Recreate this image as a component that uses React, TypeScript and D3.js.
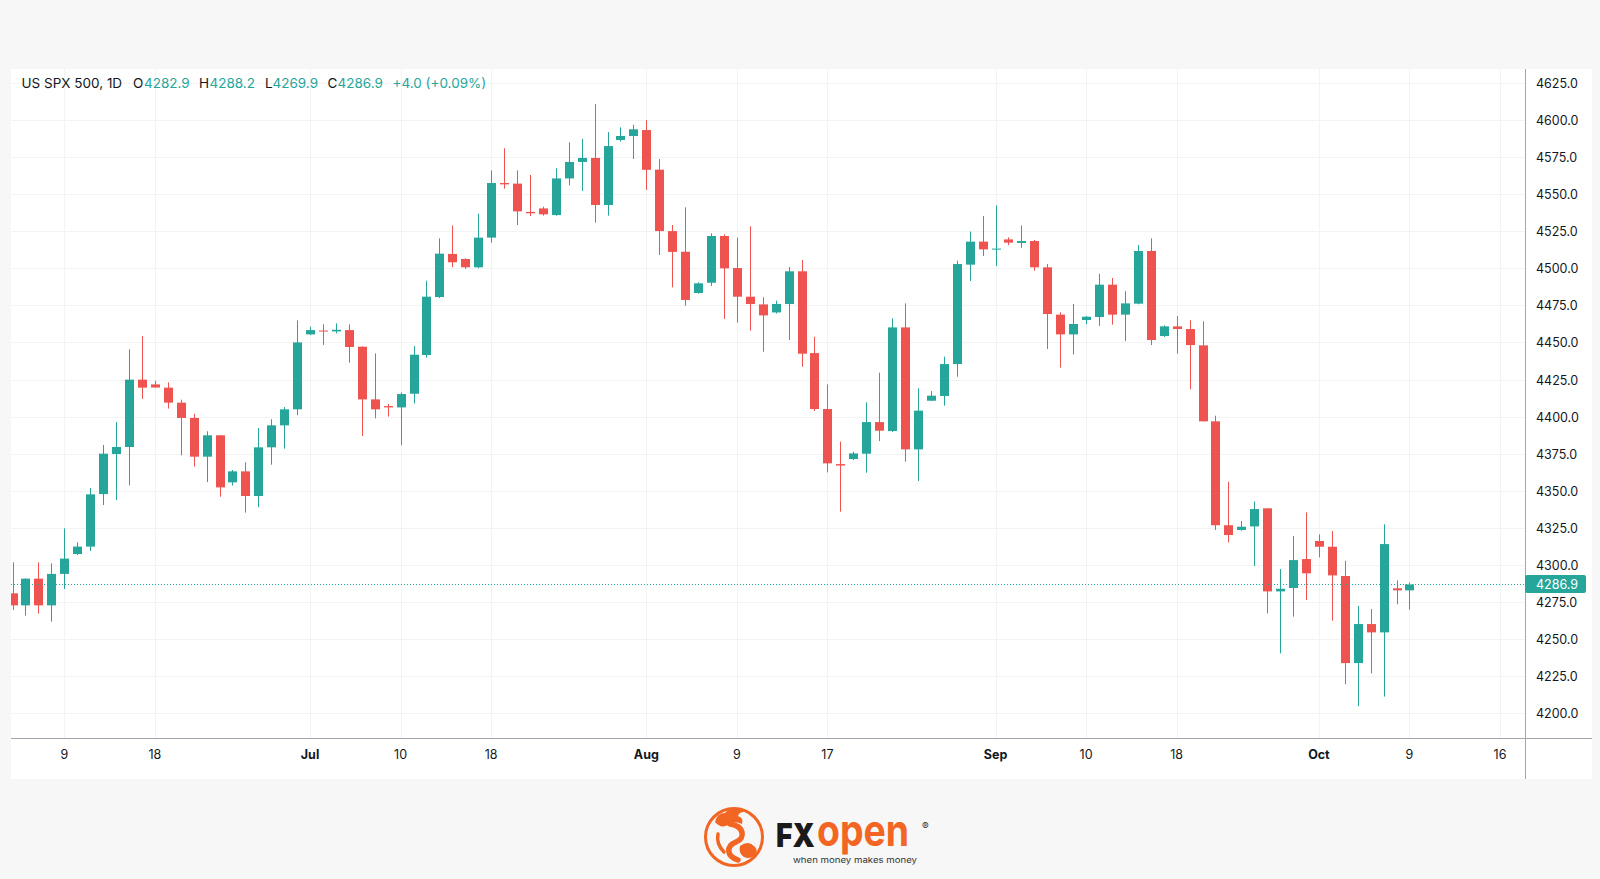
import React from 'react';
import * as d3 from 'd3';

// ---------- data ----------
const opens = [4280.9,4272.8,4290.8,4272.8,4294.0,4307.4,4312.4,4347.8,4374.8,4379.5,4424.9,4421.7,4419.5,4409.4,4399.1,4373.0,4387.4,4355.7,4363.1,4346.5,4379.3,4394.1,4404.9,4455.4,4458.0,4457.4,4458.3,4447.1,4411.6,4407.1,4406.2,4415.4,4441.5,4480.6,4509.6,4506.2,4500.6,4520.6,4557.4,4557.0,4537.9,4540.3,4535.8,4560.5,4571.6,4574.3,4542.6,4586.4,4589.1,4593.1,4566.4,4525.0,4511.1,4483.3,4490.2,4521.7,4500.1,4480.8,4475.6,4470.2,4475.9,4497.9,4442.8,4405.1,4368.0,4371.4,4375.0,4396.3,4390.3,4460.1,4377.9,4410.7,4413.9,4435.4,4502.4,4517.9,4512.7,4519.4,4517.0,4518.3,4500.6,4468.7,4455.4,4465.1,4467.1,4488.9,4468.7,4476.1,4511.6,4454.3,4460.8,4459.0,4448.0,4396.8,4326.8,4323.6,4326.0,4338.2,4282.2,4284.5,4304.0,4316.2,4312.3,4292.6,4233.9,4260.2,4254.6,4284.3,4282.9];
const highs = [4301.8,4291.0,4301.8,4301.1,4324.7,4315.3,4351.9,4380.9,4396.4,4445.3,4454.3,4424.2,4423.1,4411.4,4401.8,4390.1,4387.6,4364.0,4369.2,4392.3,4398.2,4406.5,4464.8,4460.6,4462.2,4462.8,4462.2,4447.3,4442.6,4408.5,4416.3,4447.6,4491.6,4520.1,4528.7,4506.6,4536.7,4565.9,4580.8,4565.9,4562.8,4541.5,4567.3,4584.8,4587.1,4610.6,4591.8,4594.9,4596.7,4599.8,4573.6,4529.1,4541.0,4490.5,4523.5,4522.8,4520.6,4528.2,4480.4,4478.1,4500.8,4505.5,4453.8,4421.7,4383.1,4376.4,4409.6,4429.6,4466.2,4476.3,4419.0,4417.2,4440.4,4505.1,4524.7,4535.2,4542.3,4520.8,4528.7,4519.0,4502.8,4470.2,4475.9,4467.8,4496.3,4493.4,4484.4,4515.6,4520.1,4461.5,4467.8,4464.9,4464.2,4400.6,4356.1,4329.6,4342.8,4338.2,4297.3,4319.5,4335.5,4320.6,4322.9,4302.9,4272.3,4270.3,4327.4,4289.6,4288.2];
const lows = [4269.7,4265.9,4267.2,4261.8,4283.8,4306.7,4309.4,4340.4,4343.8,4353.7,4411.9,4419.5,4405.4,4373.9,4366.3,4355.9,4346.0,4353.5,4335.3,4338.9,4367.6,4378.4,4400.9,4455.0,4448.3,4456.1,4436.3,4386.9,4398.8,4400.0,4380.8,4408.9,4439.7,4479.9,4500.6,4499.5,4499.9,4517.2,4553.6,4529.1,4535.2,4535.4,4535.4,4555.8,4552.0,4530.7,4535.4,4585.3,4573.6,4552.7,4508.9,4487.1,4474.7,4482.8,4488.0,4465.8,4463.3,4457.9,4443.7,4469.4,4451.6,4433.6,4403.8,4362.4,4335.9,4370.7,4362.2,4383.5,4389.6,4369.6,4356.6,4410.5,4407.4,4426.9,4491.4,4508.2,4501.5,4515.6,4513.8,4498.3,4445.5,4433.0,4441.9,4462.2,4461.1,4462.0,4450.9,4475.7,4448.2,4453.6,4442.4,4418.4,4396.8,4323.6,4315.2,4323.1,4299.3,4267.4,4240.5,4265.2,4276.4,4305.1,4262.5,4219.6,4205.0,4226.9,4211.3,4273.5,4269.9];
const closes = [4272.8,4290.8,4272.8,4294.0,4304.3,4312.4,4347.6,4375.0,4379.5,4424.9,4419.5,4419.6,4409.4,4399.1,4373.0,4387.4,4352.3,4363.1,4346.5,4379.3,4394.1,4404.9,4450.0,4458.3,4457.5,4458.5,4446.9,4411.6,4404.9,4406.2,4415.2,4441.7,4480.8,4509.8,4504.0,4500.6,4520.6,4557.4,4556.5,4538.3,4537.0,4536.3,4560.5,4571.6,4574.3,4542.6,4582.3,4589.1,4593.6,4566.3,4525.0,4511.0,4478.6,4489.8,4521.7,4499.9,4480.8,4475.9,4468.2,4475.9,4497.9,4442.4,4405.1,4368.5,4367.0,4375.2,4396.3,4390.5,4460.1,4377.9,4404.0,4414.1,4435.4,4502.8,4517.9,4512.7,4513.2,4517.2,4518.3,4500.6,4469.1,4455.4,4462.4,4467.3,4488.9,4468.7,4476.3,4511.6,4451.6,4460.8,4459.0,4448.2,4396.8,4326.8,4320.2,4325.8,4337.7,4282.2,4284.0,4303.3,4294.4,4312.3,4293.0,4233.9,4260.2,4254.6,4314.1,4282.9,4286.9];

const xTickLabels = ['9', '18', 'Jul', '10', '18', 'Aug', '9', '17', 'Sep', '10', '18', 'Oct', '9', '16'];
const xTickIndex = [4, 11, 23, 30, 37, 49, 56, 63, 76, 83, 90, 101, 108, 115];
const xTickBold = [false, false, true, false, false, true, false, false, true, false, false, true, false, false];
const yTicks = [4200, 4225, 4250, 4275, 4300, 4325, 4350, 4375, 4400, 4425, 4450, 4475, 4500, 4525, 4550, 4575, 4600, 4625];

const symbolLabel = 'US SPX 500, 1D';
const ohlcKeys = ['O', 'H', 'L', 'C'];
const ohlcValues = ['4282.9', '4288.2', '4269.9', '4286.9'];
const changeLabel = '+4.0 (+0.09%)';
const lastPrice = 4286.9;

// ---------- style ----------
const UP = '#26a69a';
const DOWN = '#ef5350';
const TEXT = '#131722';
const GRID = '#f2f3f5';
const AXIS = '#a3a6af';
const ORANGE = '#f26522';
const FONT = 'Inter, Roboto, "Noto Sans", sans-serif';

export default function App() {
  const W = 1600, H = 879;
  const panelL = 11, panelT = 69, panelR = 1592, panelB = 779;
  const plotR = 1525, axisY = 738.5;

  const x = d3.scaleLinear().domain([0, 115]).range([12.56, 1500]);
  const y = d3.scaleLinear().domain([4200, 4625]).range([713.4, 82.7]);

  const headerX = [133, 199, 265, 327.5];
  const headerValX = [144, 209.5, 272.5, 337.5];

  const py = Math.round(y(lastPrice)) + 0.5;

  return (
    <svg width={W} height={H} style={{ position: 'absolute', left: 0, top: 0 }} fontFamily={FONT}>
      <defs>
        <clipPath id="plot">
          <rect x={panelL} y={panelT} width={plotR - panelL} height={axisY - panelT} />
        </clipPath>
      </defs>
      <rect x={0} y={0} width={W} height={H} fill="#f7f7f7" />
      <rect x={panelL} y={panelT} width={panelR - panelL} height={panelB - panelT} fill="#ffffff" />

      {/* grid */}
      <g clipPath="url(#plot)">
        {yTicks.map((t) => (
          <line key={'h' + t} x1={panelL} x2={plotR} y1={Math.round(y(t)) + 0.5} y2={Math.round(y(t)) + 0.5} stroke={GRID} />
        ))}
        {xTickIndex.map((t, i) => (
          <line key={'v' + i} x1={Math.round(x(t)) + 0.5} x2={Math.round(x(t)) + 0.5} y1={panelT} y2={axisY} stroke={GRID} />
        ))}
      </g>

      {/* candles */}
      <g clipPath="url(#plot)">
        {opens.map((o, i) => {
          const c = closes[i];
          const up = c >= o;
          const col = up ? UP : DOWN;
          const cx = Math.round(x(i));
          const top = y(Math.max(o, c));
          const bot = y(Math.min(o, c));
          const h = Math.max(1, bot - top);
          return (
            <g key={i}>
              <line x1={cx + 0.5} x2={cx + 0.5} y1={y(highs[i])} y2={y(lows[i])} stroke={col} strokeWidth={1} />
              <rect x={cx - 4} y={top} width={9} height={h} fill={col} />
            </g>
          );
        })}
        <line x1={panelL} x2={plotR} y1={py} y2={py} stroke={UP} strokeWidth={1} strokeDasharray="1 2" />
      </g>

      {/* axes lines */}
      <line x1={panelL} x2={panelR} y1={axisY} y2={axisY} stroke={AXIS} strokeWidth={1} />
      <line x1={plotR + 0.5} x2={plotR + 0.5} y1={panelT} y2={panelB} stroke={AXIS} strokeWidth={1} />

      {/* y labels */}
      {yTicks.map((t) => (
        <text key={'yl' + t} x={1536} y={y(t) + 5} fontSize={12.5} fill={TEXT}>
          {t.toFixed(1)}
        </text>
      ))}
      {/* last price label */}
      <rect x={plotR} y={py - 9.5} width={61} height={18} rx={2} fill={UP} />
      <text x={1536} y={py + 4.5} fontSize={12.5} fill="#ffffff">{lastPrice.toFixed(1)}</text>

      {/* x labels */}
      {xTickIndex.map((t, i) => (
        <text key={'xl' + i} x={x(t)} y={759} fontSize={12.5} textAnchor="middle" fill={TEXT} fontWeight={xTickBold[i] ? 700 : 400}>
          {xTickLabels[i]}
        </text>
      ))}

      {/* header */}
      <text y={87.5} fontSize={13.5} fill={TEXT}>
        <tspan x={21.5}>{symbolLabel}</tspan>
      </text>
      {ohlcKeys.map((k, i) => (
        <text key={k} y={87.5} fontSize={13.5}>
          <tspan x={headerX[i]} fill={TEXT}>{k}</tspan>
          <tspan x={headerValX[i]} fill={UP}>{ohlcValues[i]}</tspan>
        </text>
      ))}
      <text x={392.5} y={87.5} fontSize={13.5} fill={UP}>{changeLabel}</text>

      {/* logo */}
      <g>
        <circle cx={734} cy={837} r={28.5} fill="none" stroke={ORANGE} strokeWidth={3} />
        <path d="M715 822 q2 -9 10 -9 q4 -5 10 -3 q6 -3 9 2 q-5 0 -6 4 q6 2 4 8 q-8 -4 -14 1 q-7 4 -13 -3 z" fill={ORANGE} />
        <path d="M730 824 C744 826, 746 838, 736 842 C726 846, 726 856, 738 860" fill="none" stroke={ORANGE} strokeWidth={5.5} strokeLinecap="round" />
        <path d="M740 846 q8 -6 14 0 q4 3 2 8 q-6 6 -12 3 q-6 -4 -4 -11 z" fill={ORANGE} />
        <path d="M718 834 q-2 10 6 18" fill="none" stroke={ORANGE} strokeWidth={3.5} strokeLinecap="round" />
        <g transform="translate(776,847) scale(0.86,1)">
          <text x={0} y={0} fontSize={33} fontWeight={900} fill="#1a1a1a">FX</text>
        </g>
        <g transform="translate(817,846) scale(0.85,1)">
          <text x={0} y={0} fontSize={44} fontWeight={700} fill={ORANGE}>open</text>
        </g>
        <text x={922} y={830} fontSize={10} fill="#333">®</text>
        <text x={793} y={863} fontSize={8} fill="#333" textLength={124} lengthAdjust="spacingAndGlyphs">when money   makes money</text>
      </g>
    </svg>
  );
}
